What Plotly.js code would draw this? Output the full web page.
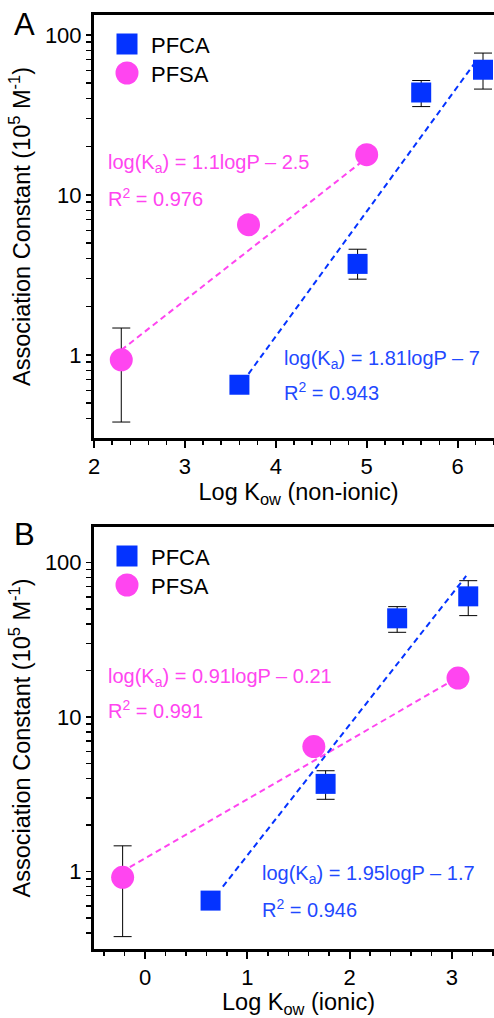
<!DOCTYPE html>
<html><head><meta charset="utf-8">
<script src="https://cdn.plot.ly/plotly-3.0.1.min.js"></script>
<style>html,body{margin:0;padding:0;overflow:hidden;background:#fff}#plot{width:512px;height:1018px}</style>
</head><body><div id="plot"></div>
<script>
// ---- Data ----
// Panel A: Log Kow (non-ionic)
const pfcaA_x = [3.6, 4.9, 5.6, 6.28];
const pfcaA_y = [0.65, 3.7, 43.6, 60.5];
const pfcaA_errPlus = [0, 0.87, 8.2, 16.4];
const pfcaA_errMinus = [0, 0.73, 8.0, 14.7];
const pfsaA_x = [2.3, 3.7, 5.0];
const pfsaA_y = [0.93, 6.5, 17.8];
const pfsaA_errPlus = [0.54, 0, 0];
const pfsaA_errMinus = [0.55, 0, 0];
const pfcaA_fitX = [3.7, 6.2];
const pfcaA_fitY = [0.76, 68];
const pfsaA_fitX = [2.3, 5.0];
const pfsaA_fitY = [1.07, 17];
// Panel B: Log Kow (ionic)
const pfcaB_x = [0.64, 1.765, 2.465, 3.16];
const pfcaB_y = [0.65, 3.7, 43.6, 60.5];
const pfcaB_errPlus = [0, 0.8, 8.3, 15.9];
const pfcaB_errMinus = [0, 0.76, 8.2, 15.1];
const pfsaB_x = [-0.22, 1.65, 3.06];
const pfsaB_y = [0.92, 6.45, 17.9];
const pfsaB_errPlus = [0.55, 0, 0];
const pfsaB_errMinus = [0.54, 0, 0];
const pfcaB_fitX = [0.76, 3.14];
const pfcaB_fitY = [0.80, 82];
const pfsaB_fitX = [-0.15, 2.99];
const pfsaB_fitY = [1.07, 17];

const seriesNames = ['PFCA', 'PFSA'];
const yTickVals = [0.4, 0.5, 0.6, 0.7, 0.8, 0.9, 1, 2, 3, 4, 5, 6, 7, 8, 9, 10,
                   20, 30, 40, 50, 60, 70, 80, 90, 100];
const yTickText = yTickVals.map(v => (v === 1 || v === 10 || v === 100) ? String(v) : '');
const eqA_pfsa = ['log(K<sub>a</sub>) = 1.1logP \u2013 2.5', 'R<sup>2</sup> = 0.976'];
const eqA_pfca = ['log(K<sub>a</sub>) = 1.81logP \u2013 7', 'R<sup>2</sup> = 0.943'];
const eqB_pfsa = ['log(K<sub>a</sub>) = 0.91logP \u2013 0.21', 'R<sup>2</sup> = 0.991'];
const eqB_pfca = ['log(K<sub>a</sub>) = 1.95logP \u2013 1.7', 'R<sup>2</sup> = 0.946'];

// ---- Style ----
const BLUE = '#0433ff';
const BLUE_T = '#1f49ff';
const MAG = '#ff45f0';
const FONT = 'Liberation Sans, Arial, Helvetica, sans-serif';

const W = 512, H = 1018;
const L = 94, R = 503, T = 15, B = 949;
const px2x = p => (p - L) / (R - L);
const px2y = p => (B - p) / (B - T);

function pts(x, y, ep, em, color, symbol, size, xa, ya) {
  return {x, y, xaxis: xa, yaxis: ya, type: 'scatter', mode: 'markers', showlegend: false,
    marker: {color, symbol, size, line: {width: 0}},
    error_y: {type: 'data', symmetric: false, array: ep, arrayminus: em, color: '#000', thickness: 1, width: 9}};
}
function fit(x, y, color, xa, ya) {
  return {x, y, xaxis: xa, yaxis: ya, type: 'scatter', mode: 'lines', showlegend: false,
    line: {color, width: 2, dash: '6px,4px'}};
}

const data = [
  fit(pfsaA_fitX, pfsaA_fitY, MAG, 'x', 'y'),
  fit(pfcaA_fitX, pfcaA_fitY, BLUE, 'x', 'y'),
  pts(pfsaA_x, pfsaA_y, pfsaA_errPlus, pfsaA_errMinus, MAG, 'circle', 23, 'x', 'y'),
  pts(pfcaA_x, pfcaA_y, pfcaA_errPlus, pfcaA_errMinus, BLUE, 'square', 20, 'x', 'y'),
  fit(pfsaB_fitX, pfsaB_fitY, MAG, 'x2', 'y2'),
  fit(pfcaB_fitX, pfcaB_fitY, BLUE, 'x2', 'y2'),
  pts(pfsaB_x, pfsaB_y, pfsaB_errPlus, pfsaB_errMinus, MAG, 'circle', 23, 'x2', 'y2'),
  pts(pfcaB_x, pfcaB_y, pfcaB_errPlus, pfcaB_errMinus, BLUE, 'square', 20, 'x2', 'y2'),
];

const tickFont = {family: FONT, size: 22, color: '#000'};
const titleFont = {family: FONT, size: 23.5, color: '#000'};
function xax(range, title, anchor) {
  return {range, anchor, dtick: 1, tick0: 0, ticks: 'outside', ticklen: 7, tickwidth: 2, tickcolor: '#000',
    minor: {dtick: 0.2, ticklen: 4, tickwidth: 1.5, tickcolor: '#000', ticks: 'outside'},
    showline: true, linewidth: 3, linecolor: '#000', mirror: true, showgrid: false, zeroline: false,
    tickfont: tickFont, ticklabelstandoff: 0, title: {text: title, font: titleFont, standoff: 0}};
}
function yax(range, domain, anchor) {
  return {type: 'log', range, domain, anchor, tickmode: 'array', tickvals: yTickVals, ticktext: yTickText,
    ticks: 'outside', ticklen: 5, tickwidth: 1.5, tickcolor: '#000',
    showline: true, linewidth: 3, linecolor: '#000', mirror: true, showgrid: false, zeroline: false,
    tickfont: tickFont, title: {text: 'Association Constant (10<sup>5</sup> M<sup>-1</sup>)', font: titleFont, standoff: 8}};
}

const annotations = [];
const shapes = [];
function txt(x, y, text, color, size, anchor) {
  annotations.push({xref: 'paper', yref: 'paper', x: px2x(x), y: px2y(y), text, showarrow: false,
    xanchor: anchor || 'left', yanchor: 'middle', font: {family: FONT, size, color}});
}
function legend(yTop) {
  shapes.push({type: 'rect', xref: 'paper', yref: 'paper', xsizemode: 'pixel', ysizemode: 'pixel',
    xanchor: px2x(127), yanchor: px2y(yTop), x0: -10.5, x1: 10.5, y0: -10.5, y1: 10.5,
    fillcolor: BLUE, line: {width: 0}});
  shapes.push({type: 'circle', xref: 'paper', yref: 'paper', xsizemode: 'pixel', ysizemode: 'pixel',
    xanchor: px2x(127), yanchor: px2y(yTop + 29), x0: -11.5, x1: 11.5, y0: -11.5, y1: 11.5,
    fillcolor: MAG, line: {width: 0}});
  txt(149, yTop + 1, seriesNames[0], '#000', 22);
  txt(149, yTop + 30, seriesNames[1], '#000', 22);
}
legend(44);
legend(556);
txt(106, 164, eqA_pfsa[0], MAG, 20);
txt(106, 197, eqA_pfsa[1], MAG, 20);
txt(282, 359, eqA_pfca[0], BLUE_T, 20);
txt(282, 391, eqA_pfca[1], BLUE_T, 20);
txt(106, 677, eqB_pfsa[0], MAG, 20);
txt(106, 709, eqB_pfsa[1], MAG, 20);
txt(260, 874, eqB_pfca[0], BLUE_T, 20);
txt(260, 908, eqB_pfca[1], BLUE_T, 20);
txt(12, 25, 'A', '#000', 31);
txt(12, 534, 'B', '#000', 31);

const domA = [px2y(438), 1];
const domB = [0, px2y(527)];
const rA = [Math.log10(0.302), Math.log10(133)];
const rB = [Math.log10(0.316), Math.log10(170)];
const layout = {
  width: W, height: H, margin: {l: L, r: W - R, t: T, b: H - B},
  paper_bgcolor: '#fff', plot_bgcolor: '#fff', showlegend: false,
  font: {family: FONT, color: '#000'},
  xaxis: xax([2, 6.5], 'Log K<sub>ow</sub> (non-ionic)', 'y'),
  yaxis: yax(rA, domA, 'x'),
  xaxis2: xax([-0.5, 3.5], 'Log K<sub>ow</sub> (ionic)', 'y2'),
  yaxis2: yax(rB, domB, 'x2'),
  annotations, shapes
};
Plotly.newPlot('plot', data, layout, {staticPlot: true, displayModeBar: false});
</script></body></html>
